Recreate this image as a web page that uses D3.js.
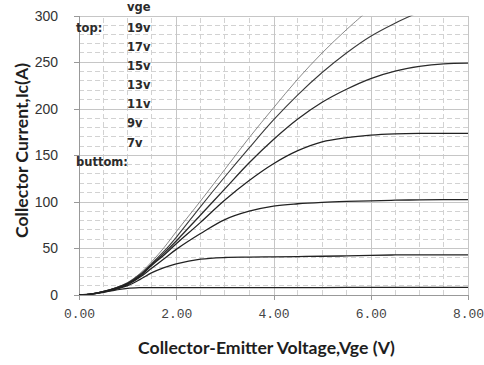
<!DOCTYPE html>
<html>
<head>
<meta charset="utf-8">
<script src="https://cdn.jsdelivr.net/npm/d3@7"></script>
<style>
  html, body { margin: 0; padding: 0; background: #fff; }
  svg { display: block; }
</style>
</head>
<body>
<svg id="chart" width="484" height="365"></svg>
<script>
// Collector-emitter voltage grid (V) shared by every output curve
const vce = [0, 0.25, 0.5, 0.75, 1.0, 1.25, 1.5, 1.75, 2.0, 2.5, 3.0, 3.5, 4.0, 4.5, 5.0, 5.5, 6.0, 6.5, 7.0, 7.5, 8.0];

// Collector current (A) for each gate voltage; null where the curve has left the chart
const ic19 = [0, 1.2, 4.0, 7.8, 13.5, 23, 36, 51, 68, 101, 135, 169, 201, 232, 260, 285, 308, null, null, null, null];
const ic17 = [0, 1.1, 3.8, 7.5, 13, 22, 34, 47, 62, 95, 127, 158, 188, 215, 239, 260, 278, 292, 304, null, null];
const ic15 = [0, 1.1, 3.7, 7.3, 12.5, 21, 33, 45, 58, 86, 114, 142, 167, 189, 207, 221, 232.5, 240.5, 245.5, 248.3, 249];
const ic13 = [0, 1.0, 3.5, 7.0, 12, 20, 32, 43, 55, 78, 102, 123, 141, 155, 164.5, 169, 171.7, 173, 173.5, 173.5, 173.5];
const ic11 = [0, 1.0, 3.3, 6.5, 11, 19, 29, 39, 49, 66, 81, 90, 95.5, 98, 99.5, 100.5, 101.2, 101.8, 102.2, 102.5, 102.5];
const ic9  = [0, 0.9, 3.0, 6.0, 10, 16.5, 24, 29.5, 33.5, 38.5, 40.3, 40.7, 41, 41.3, 41.6, 42, 42.6, 43, 43, 43, 43];
const ic7  = [0, 0.8, 2.8, 5.2, 7.2, 7.9, 8, 8, 8, 8, 8, 8, 8, 8, 8, 8.1, 8.2, 8.2, 8.2, 8.2, 8.2];

// Legend text
const legendTitle = "vge";
const legendTop = "top:";
const legendBottom = "buttom:";
const gateLabels = ["19v", "17v", "15v", "13v", "11v", "9v", "7v"];

// Axis ticks and titles
const xTicks = [0, 2, 4, 6, 8];
const yTicks = [0, 50, 100, 150, 200, 250, 300];
const xTitle = "Collector-Emitter Voltage,Vge (V)";
const yTitle = "Collector Current,Ic(A)";

const series = [
  { values: ic19, stroke: "#6a6a6a", width: 0.8 },
  { values: ic17, stroke: "#3a3a3a", width: 1.1 },
  { values: ic15, stroke: "#2a2a2a", width: 1.3 },
  { values: ic13, stroke: "#222", width: 1.3 },
  { values: ic11, stroke: "#222", width: 1.3 },
  { values: ic9,  stroke: "#222", width: 1.3 },
  { values: ic7,  stroke: "#222", width: 1.2 }
];

const W = 484, H = 365;
const margin = { left: 79, right: 16, top: 15.7, bottom: 70 };
const svg = d3.select("#chart");

const x = d3.scaleLinear().domain([0, 8]).range([margin.left, W - margin.right]);
const y = d3.scaleLinear().domain([0, 300]).range([H - margin.bottom, margin.top]);

// Minor dashed grid
const grid = svg.append("g");
grid.selectAll("line.mx")
  .data(d3.range(0.5, 8, 0.5).filter(v => v % 2 !== 0))
  .join("line")
  .attr("x1", d => x(d)).attr("x2", d => x(d))
  .attr("y1", y(0)).attr("y2", y(300))
  .attr("stroke", "#d2d2d2").attr("stroke-width", 1)
  .attr("stroke-dasharray", "5,3")
  .attr("shape-rendering", "crispEdges");
grid.selectAll("line.my")
  .data(d3.range(10, 300, 10).filter(v => v % 50 !== 0))
  .join("line")
  .attr("x1", x(0)).attr("x2", x(8))
  .attr("y1", d => y(d)).attr("y2", d => y(d))
  .attr("stroke", "#d2d2d2").attr("stroke-width", 1)
  .attr("stroke-dasharray", "5,3")
  .attr("shape-rendering", "crispEdges");

// Major solid grid, drawn by the axes with full-length ticks
const xGrid = d3.axisBottom(x).tickValues(xTicks).tickSize(-(y(0) - y(300))).tickFormat("");
svg.append("g").attr("transform", `translate(0,${y(0)})`).call(xGrid)
  .call(g => g.select(".domain").remove())
  .call(g => g.selectAll("line").attr("stroke", "#c6c6c6").attr("shape-rendering", "crispEdges"));
const yGrid = d3.axisLeft(y).tickValues(yTicks).tickSize(-(x(8) - x(0))).tickFormat("");
svg.append("g").attr("transform", `translate(${x(0)},0)`).call(yGrid)
  .call(g => g.select(".domain").remove())
  .call(g => g.selectAll("line").attr("stroke", "#c6c6c6").attr("shape-rendering", "crispEdges"));

// Axes
const xAxis = d3.axisBottom(x).tickValues(xTicks).tickSize(5).tickPadding(9)
  .tickFormat(d3.format(".2f"));
svg.append("g").attr("transform", `translate(0,${y(0)})`).call(xAxis)
  .call(g => g.select(".domain").attr("stroke", "#999").attr("shape-rendering", "crispEdges"))
  .call(g => g.selectAll("line").attr("stroke", "#999").attr("shape-rendering", "crispEdges"))
  .call(g => g.selectAll("text")
    .attr("font-family", "'Liberation Mono', 'DejaVu Sans Mono', monospace")
    .attr("font-size", 13).attr("fill", "#444"));

const yAxis = d3.axisLeft(y).tickValues(yTicks).tickSize(5).tickPadding(16);
svg.append("g").attr("transform", `translate(${x(0)},0)`).call(yAxis)
  .call(g => g.select(".domain").attr("stroke", "#999").attr("shape-rendering", "crispEdges"))
  .call(g => g.selectAll("line").attr("stroke", "#999").attr("shape-rendering", "crispEdges"))
  .call(g => g.selectAll("text")
    .attr("font-family", "'Liberation Sans', Arial, sans-serif")
    .attr("font-size", 14).attr("fill", "#333"));

// Output characteristic curves, clipped to the plotting area
svg.append("clipPath").attr("id", "plotClip")
  .append("rect")
  .attr("x", x(0)).attr("y", y(300))
  .attr("width", x(8) - x(0)).attr("height", y(0) - y(300));

const line = d3.line()
  .defined(d => d[1] !== null)
  .x(d => x(d[0])).y(d => y(d[1]))
  .curve(d3.curveCatmullRom.alpha(0.5));

svg.append("g").attr("clip-path", "url(#plotClip)")
  .selectAll("path")
  .data(series)
  .join("path")
  .attr("d", s => line(vce.map((v, i) => [v, s.values[i]])))
  .attr("fill", "none")
  .attr("stroke", d => d.stroke)
  .attr("stroke-width", d => d.width)
  .attr("stroke-linejoin", "round");

// Gate-voltage legend
const legend = svg.append("g")
  .attr("font-family", "'DejaVu Sans', Verdana, sans-serif")
  .attr("font-weight", "bold")
  .attr("font-size", 11.5)
  .attr("fill", "#2b2b2b");
legend.append("text").attr("x", 127).attr("y", 11).text(legendTitle);
legend.append("text").attr("x", 76).attr("y", 31.7).text(legendTop);
legend.selectAll("text.gate")
  .data(gateLabels)
  .join("text")
  .attr("class", "gate")
  .attr("x", 127)
  .attr("y", (d, i) => 31.7 + i * 19.15)
  .text(d => d);
legend.append("text").attr("x", 76).attr("y", 165.7).text(legendBottom);

// Axis titles, sized to their available length
function fitFont(sel, target) {
  let size = 15;
  sel.attr("font-size", size);
  const len = sel.node().getComputedTextLength();
  sel.attr("font-size", size * target / len);
}

const xt = svg.append("text")
  .attr("x", 266.5).attr("y", 354)
  .attr("text-anchor", "middle")
  .attr("font-family", "Lato, 'Open Sans', sans-serif")
  .attr("font-weight", "bold")
  .attr("fill", "#1e1e1e")
  .text(xTitle);
fitFont(xt, 257);

const yt = svg.append("text")
  .attr("transform", "translate(27.5,150.5) rotate(-90)")
  .attr("text-anchor", "middle")
  .attr("font-family", "Lato, 'Open Sans', sans-serif")
  .attr("font-weight", "bold")
  .attr("fill", "#1e1e1e")
  .text(yTitle);
fitFont(yt, 175);
</script>
</body>
</html>
